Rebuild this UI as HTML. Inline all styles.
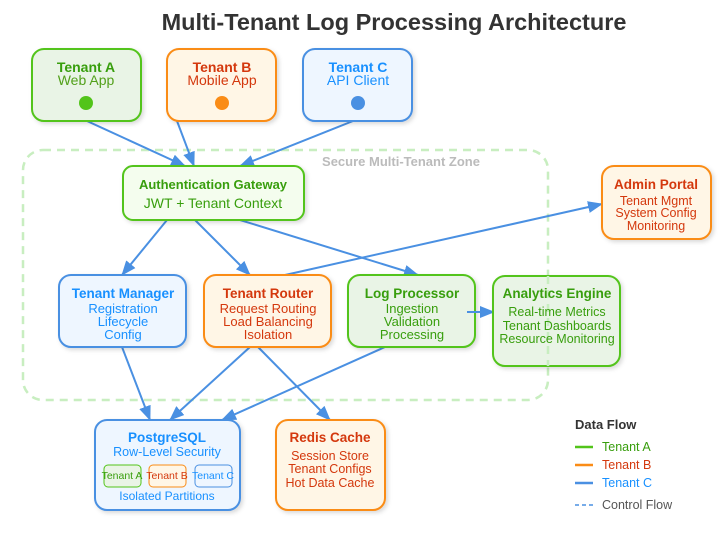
<!DOCTYPE html>
<html><head><meta charset="utf-8"><style>
body{margin:0;background:#fff}
svg{display:block;font-family:"Liberation Sans",Arial,sans-serif}
</style></head><body>
<svg width="727" height="533" viewBox="0 0 727 533" xmlns="http://www.w3.org/2000/svg">
<defs>
<marker id="ar" markerWidth="15" markerHeight="12" refX="14" refY="6" orient="auto" markerUnits="userSpaceOnUse" viewBox="0 0 15 12"><path d="M0,0 L15,6 L0,12z" fill="#4a90e2"/></marker>
<filter id="sh" x="-10%" y="-10%" width="130%" height="130%"><feDropShadow dx="2" dy="2" stdDeviation="2" flood-opacity="0.15"/></filter>
</defs>
<text x="394" y="30" text-anchor="middle" font-size="23.5" font-weight="bold" fill="#333">Multi-Tenant Log Processing Architecture</text>

<rect x="23" y="150" width="525" height="250" rx="20" fill="none" stroke="#c8eec0" stroke-width="2.5" stroke-dasharray="8,6"/>
<text x="401" y="166" text-anchor="middle" font-size="13" font-weight="bold" fill="#bbb">Secure Multi-Tenant Zone</text>

<g stroke="#4a90e2" stroke-width="2" fill="none" marker-end="url(#ar)">
<line x1="87" y1="121" x2="185" y2="166"/>
<line x1="177" y1="121" x2="194" y2="166"/>
<line x1="353" y1="121" x2="240" y2="166"/>
<line x1="167" y1="220" x2="122" y2="275"/>
<line x1="195" y1="220" x2="250" y2="275"/>
<line x1="240" y1="220" x2="418" y2="275"/>
<line x1="285" y1="275" x2="602" y2="204"/>
<line x1="467" y1="312" x2="494" y2="312"/>
<line x1="122" y1="347" x2="150" y2="420"/>
<line x1="250" y1="347" x2="170" y2="420"/>
<line x1="385" y1="347" x2="222" y2="420"/>
<line x1="258" y1="347" x2="330" y2="420"/>
</g>

<g filter="url(#sh)" stroke-width="2">
<rect x="32" y="49" width="109" height="72" rx="12" fill="#e9f4e6" stroke="#52c41a"/>
<rect x="167" y="49" width="109" height="72" rx="12" fill="#fff6e6" stroke="#fa8c16"/>
<rect x="303" y="49" width="109" height="72" rx="12" fill="#eef6ff" stroke="#4a90e2"/>
<rect x="123" y="166" width="181" height="54" rx="10" fill="#f4fdee" stroke="#52c41a"/>
<rect x="59" y="275" width="127" height="72" rx="12" fill="#eef6ff" stroke="#4a90e2"/>
<rect x="204" y="275" width="127" height="72" rx="12" fill="#fff6e6" stroke="#fa8c16"/>
<rect x="348" y="275" width="127" height="72" rx="12" fill="#e9f4e6" stroke="#52c41a"/>
<rect x="493" y="276" width="127" height="90" rx="12" fill="#e9f4e6" stroke="#52c41a"/>
<rect x="602" y="166" width="109" height="73" rx="12" fill="#fff6e6" stroke="#fa8c16"/>
<rect x="95" y="420" width="145" height="90" rx="12" fill="#eef6ff" stroke="#4a90e2"/>
<rect x="276" y="420" width="109" height="90" rx="12" fill="#fff6e6" stroke="#fa8c16"/>
</g>
<line x1="467" y1="312" x2="483" y2="312" stroke="#4a90e2" stroke-width="2"/>
<line x1="548" y1="276" x2="548" y2="366" stroke="#c8eec0" stroke-width="2.5" stroke-dasharray="8,6"/>

<g text-anchor="middle" font-size="14">
<text x="86" y="72" font-weight="bold" font-size="14" fill="#389e0d">Tenant A</text>
<text x="86" y="85" fill="#52a01a">Web App</text>
<circle cx="86" cy="103" r="7" fill="#52c41a"/>
<text x="222" y="72" font-weight="bold" font-size="14" fill="#d4380d">Tenant B</text>
<text x="222" y="85" fill="#d4380d">Mobile App</text>
<circle cx="222" cy="103" r="7" fill="#fa8c16"/>
<text x="358" y="72" font-weight="bold" font-size="14" fill="#1890ff">Tenant C</text>
<text x="358" y="85" fill="#1890ff">API Client</text>
<circle cx="358" cy="103" r="7" fill="#4a90e2"/>

<text x="213" y="189" font-weight="bold" font-size="13" fill="#389e0d">Authentication Gateway</text>
<text x="213" y="208" fill="#389e0d">JWT + Tenant Context</text>

<text x="123" y="298" font-weight="bold" font-size="13.5" fill="#1890ff">Tenant Manager</text>
<text x="123" y="313" font-size="13" fill="#1890ff">Registration</text>
<text x="123" y="326" font-size="13" fill="#1890ff">Lifecycle</text>
<text x="123" y="339" font-size="13" fill="#1890ff">Config</text>

<text x="268" y="298" font-weight="bold" font-size="13.5" fill="#d4380d">Tenant Router</text>
<text x="268" y="313" font-size="13" fill="#d4380d">Request Routing</text>
<text x="268" y="326" font-size="13" fill="#d4380d">Load Balancing</text>
<text x="268" y="339" font-size="13" fill="#d4380d">Isolation</text>

<text x="412" y="298" font-weight="bold" font-size="13.5" fill="#389e0d">Log Processor</text>
<text x="412" y="313" font-size="13" fill="#389e0d">Ingestion</text>
<text x="412" y="326" font-size="13" fill="#389e0d">Validation</text>
<text x="412" y="339" font-size="13" fill="#389e0d">Processing</text>

<text x="557" y="298" font-weight="bold" font-size="13.5" fill="#389e0d">Analytics Engine</text>
<text x="557" y="316" font-size="12.5" fill="#389e0d">Real-time Metrics</text>
<text x="557" y="330" font-size="12.5" fill="#389e0d">Tenant Dashboards</text>
<text x="557" y="343" font-size="12.5" fill="#389e0d">Resource Monitoring</text>

<text x="656" y="189" font-weight="bold" font-size="13.5" fill="#d4380d">Admin Portal</text>
<text x="656" y="205" font-size="12.5" fill="#d4380d">Tenant Mgmt</text>
<text x="656" y="217" font-size="12.5" fill="#d4380d">System Config</text>
<text x="656" y="230" font-size="12.5" fill="#d4380d">Monitoring</text>

<text x="167" y="442" font-weight="bold" font-size="13.5" fill="#1890ff">PostgreSQL</text>
<text x="167" y="456" font-size="12.5" fill="#1890ff">Row-Level Security</text>
<rect x="104" y="465" width="37" height="22" rx="4" fill="#e9f4e6" stroke="#52c41a"/>
<rect x="149" y="465" width="37" height="22" rx="4" fill="#fff6e6" stroke="#fa8c16"/>
<rect x="195" y="465" width="37" height="22" rx="4" fill="#eef6ff" stroke="#4a90e2"/>
<text x="122" y="479" font-size="10.5" fill="#389e0d">Tenant A</text>
<text x="167" y="479" font-size="10.5" fill="#d4380d">Tenant B</text>
<text x="213" y="479" font-size="10.5" fill="#1890ff">Tenant C</text>
<text x="167" y="500" font-size="12" fill="#1890ff">Isolated Partitions</text>

<text x="330" y="442" font-weight="bold" font-size="13.5" fill="#d4380d">Redis Cache</text>
<text x="330" y="460" font-size="12.5" fill="#d4380d">Session Store</text>
<text x="330" y="473" font-size="12.5" fill="#d4380d">Tenant Configs</text>
<text x="330" y="487" font-size="12.5" fill="#d4380d">Hot Data Cache</text>
</g>

<text x="575" y="429" font-size="13" font-weight="bold" fill="#333">Data Flow</text>
<line x1="575" y1="447" x2="593" y2="447" stroke="#52c41a" stroke-width="2.5"/>
<text x="602" y="451" font-size="12.5" fill="#389e0d">Tenant A</text>
<line x1="575" y1="465" x2="593" y2="465" stroke="#fa8c16" stroke-width="2.5"/>
<text x="602" y="469" font-size="12.5" fill="#d4380d">Tenant B</text>
<line x1="575" y1="483" x2="593" y2="483" stroke="#4a90e2" stroke-width="2.5"/>
<text x="602" y="487" font-size="12.5" fill="#1890ff">Tenant C</text>
<line x1="575" y1="505" x2="593" y2="505" stroke="#4a90e2" stroke-width="1.5" stroke-dasharray="4,3"/>
<text x="602" y="509" font-size="12.5" fill="#555">Control Flow</text>
</svg>
</body></html>
